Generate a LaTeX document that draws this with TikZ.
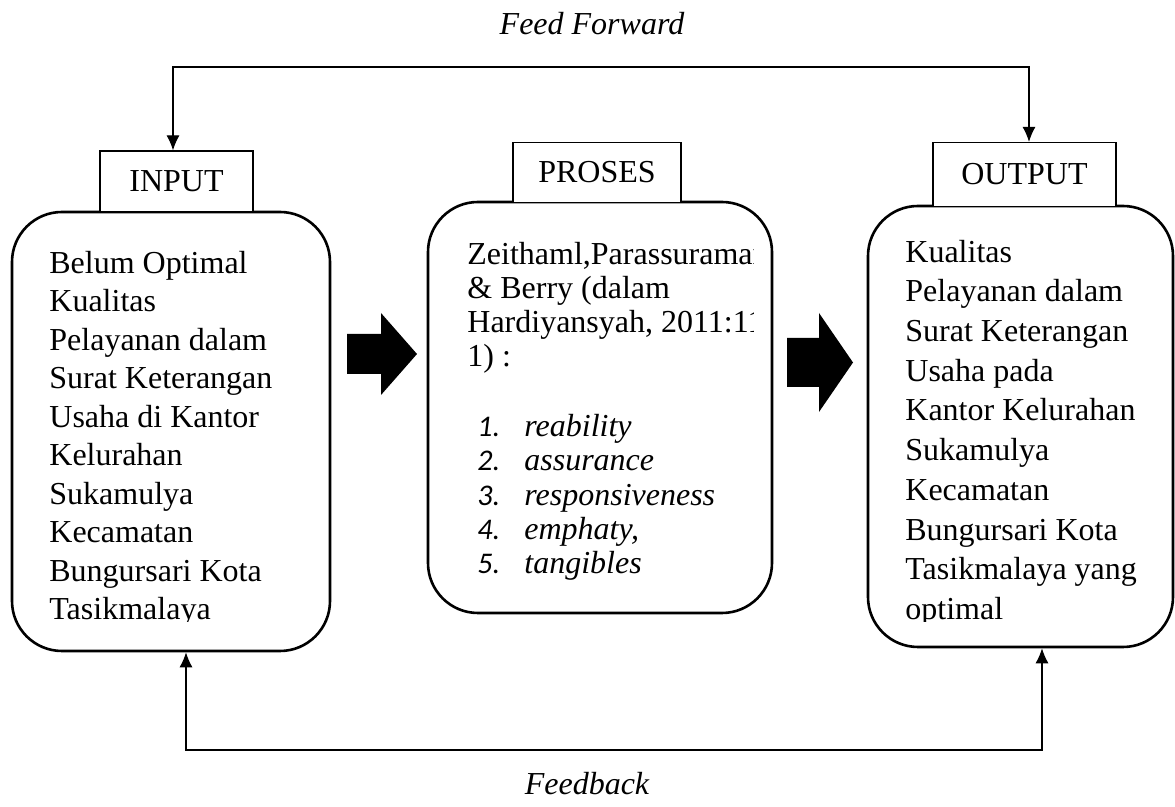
\documentclass[tikz,border=0pt]{standalone}
\usepackage{fontspec}
\setmainfont{Liberation Serif}
\newfontfamily\numfont{Carlito}
\usepackage{tikz}
\usetikzlibrary{arrows.meta}
\tikzset{>={Latex[length=7.5pt,width=6.5pt]}}
\tikzset{
  bigbox/.style={draw, line width=1.3pt, rounded corners=25pt},
  tagbox/.style={draw, fill=white, line width=0.6pt, inner sep=0pt,
    font=\fontsize{16}{19}\selectfont},
  flow/.style={line width=0.6pt},
  bodytext/.style={anchor=north west, inner sep=0pt, align=left},
  looplabel/.style={anchor=base, inner sep=0pt,
    font=\fontsize{16}{19}\selectfont\itshape}
}
\newcommand{\listrow}[2]{\makebox[23.5pt][l]{\numfont\itshape\fontsize{15}{17}\selectfont #1}\textit{#2}}

\begin{document}
\begin{tikzpicture}[x=0.5pt,y=-0.5pt]
    \useasboundingbox (0,0) rectangle (1175,807);

    % main boxes
    \node[bigbox, minimum width=159pt, minimum height=219.5pt] (inbox) at (171,431.5) {};
    \node[bigbox, minimum width=172pt, minimum height=205.5pt] (prosbox) at (600,407.5) {};
    \node[bigbox, minimum width=152.5pt, minimum height=220.5pt] (outbox) at (1020.5,426.5) {};

    % labels on top
    \node[tagbox, minimum width=76.5pt, minimum height=30.5pt] (intag) at (176.5,181.5) {INPUT};
    \node[tagbox, minimum width=84pt, minimum height=30pt] (prostag) at (597,172.5) {PROSES};
    \node[tagbox, minimum width=91.5pt, minimum height=32pt] (outtag) at (1024.5,174.5) {OUTPUT};

    % box texts
    \begin{scope}
      \clip (30,230) rectangle (320,622);
      \node[bodytext, font=\fontsize{16}{19.25}\selectfont] (intext) at (49,246)
        {\strut Belum Optimal\\Kualitas\\Pelayanan dalam\\Surat Keterangan\\Usaha di Kantor\\Kelurahan\\Sukamulya\\Kecamatan\\Bungursari Kota\\Tasikmalaya};
    \end{scope}
    \begin{scope}
      \clip (440,220) rectangle (753,600);
      \node[bodytext, font=\fontsize{16}{17}\selectfont] (prostext) at (467,240)
        {\strut Zeithaml,Parassuraman\\\& Berry (dalam\\Hardiyansyah, 2011:11\\1) :};
      \node[bodytext, font=\fontsize{16}{17.15}\selectfont] (proslist) at (477,412)
        {\strut\listrow{1.}{reability}\\\listrow{2.}{assurance}\\\listrow{3.}{responsiveness}\\\listrow{4.}{emphaty,}\\\listrow{5.}{tangibles}};
    \end{scope}
    \begin{scope}
      \clip (880,215) rectangle (1160,622);
      \node[bodytext, font=\fontsize{16}{19.85}\selectfont] (outtext) at (905,234)
        {\strut Kualitas\\Pelayanan dalam\\Surat Keterangan\\Usaha pada\\Kantor Kelurahan\\Sukamulya\\Kecamatan\\Bungursari Kota\\Tasikmalaya yang\\optimal};
    \end{scope}

    % block arrows
    \fill (347,334) -- (381,334) -- (381,313) -- (417,354) -- (381,395) -- (381,374) -- (347,374) -- cycle;
    \fill (787,338) -- (819,338) -- (819,313) -- (853,362.5) -- (819,412) -- (819,387) -- (787,387) -- cycle;

    % feed forward and feedback
    \coordinate (ffl) at (173,67);
    \coordinate (ffr) at (1029,67);
    \coordinate (fbl) at (186,750);
    \coordinate (fbr) at (1042,750);
    \draw[flow,<->] (ffl |- intag.north) -- (ffl) -- (ffr) -- (ffr |- outtag.north);
    \draw[flow,<->] (fbl |- inbox.south) -- (fbl) -- (fbr) -- (fbr |- outbox.south);

    \node[looplabel] (fftext) at (592,35) {Feed Forward};
    \node[looplabel] (fbtext) at (587,795) {Feedback};
  \end{tikzpicture}
\end{document}
